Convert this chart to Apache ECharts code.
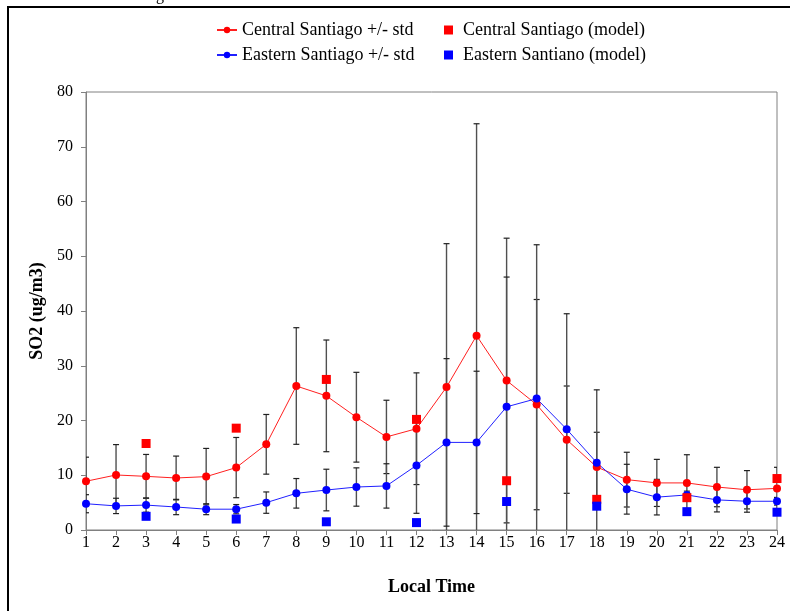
<!DOCTYPE html>
<html>
<head>
<meta charset="utf-8">
<script src="https://cdn.jsdelivr.net/npm/echarts@6/dist/echarts.min.js"></script>
<style>
  html, body { margin: 0; padding: 0; background: #ffffff; }
  #chart { width: 790px; height: 611px; }
</style>
</head>
<body>
<div id="chart"></div>
<script>
// Hour of day (local time)
const hours = [1, 2, 3, 4, 5, 6, 7, 8, 9, 10, 11, 12, 13, 14, 15, 16, 17, 18, 19, 20, 21, 22, 23, 24];

// Observed hourly SO2 means and standard deviations (ug/m3)
const centralMean = [8.9, 10.05, 9.8, 9.5, 9.75, 11.4, 15.65, 26.3, 24.5, 20.6, 17.0, 18.5, 26.1, 35.5, 27.3, 22.9, 16.5, 11.5, 9.2, 8.6, 8.6, 7.85, 7.35, 7.6];
const centralStd = [4.4, 5.55, 4.0, 4.0, 5.15, 5.5, 5.45, 10.65, 10.2, 8.2, 6.7, 10.2, 26.2, 38.7, 26.0, 19.2, 9.8, 6.35, 5.0, 4.3, 5.15, 3.6, 3.5, 3.85];
const easternMean = [4.8, 4.4, 4.55, 4.2, 3.8, 3.8, 5.0, 6.7, 7.3, 7.85, 8.05, 11.8, 16.0, 16.0, 22.5, 24.0, 18.4, 12.3, 7.45, 6.0, 6.4, 5.5, 5.25, 5.25];
const easternStd = [1.65, 1.4, 1.3, 1.4, 1.0, 0.85, 1.95, 2.7, 3.8, 3.5, 4.05, 8.75, 15.3, 13.0, 23.7, 28.1, 21.1, 13.3, 4.55, 3.25, 0.7, 2.2, 2.0, 0.7];

// Model output, every third hour
const modelHours = [3, 6, 9, 12, 15, 18, 21, 24];
const centralModel = [15.8, 18.6, 27.5, 20.2, 9.0, 5.6, 5.9, 9.4];
const easternModel = [2.5, 2.0, 1.5, 1.35, 5.2, 4.35, 3.35, 3.25];

// Axis ticks
const yTicks = [0, 10, 20, 30, 40, 50, 60, 70, 80];

const FONT = 'Liberation Serif';
const AXIS_GRAY = '#808080';
const BAR_COLOR = '#505050';

const pairs = (xs, ys) => xs.map((x, i) => [x, ys[i]]);
const triples = (xs, ms, ss) => xs.map((x, i) => [x, ms[i], ss[i]]);

// Vertical +/- std bar with small caps
function errorBar(params, api) {
  const x = api.value(0), m = api.value(1), s = api.value(2);
  const hi = api.coord([x, m + s]);
  const lo = api.coord([x, m - s]);
  const cx = hi[0];
  const w = 3;
  const st = { stroke: BAR_COLOR, lineWidth: 1.4 };
  const cap = { stroke: '#202020', lineWidth: 1.2 };
  return {
    type: 'group',
    children: [
      { type: 'line', shape: { x1: cx, y1: hi[1], x2: cx, y2: lo[1] }, style: st },
      { type: 'line', shape: { x1: cx - w, y1: hi[1], x2: cx + w, y2: hi[1] }, style: cap },
      { type: 'line', shape: { x1: cx - w, y1: lo[1], x2: cx + w, y2: lo[1] }, style: cap }
    ]
  };
}

const chart = echarts.init(document.getElementById('chart'), null, { renderer: 'canvas' });

const legendText = { fontFamily: FONT, fontSize: 18, color: '#000' };
function legendAt(name, left, top, square) {
  return {
    data: [name],
    left: left,
    top: top,
    orient: 'horizontal',
    padding: 0,
    itemWidth: square ? 9 : 20,
    itemHeight: square ? 9 : 8,
    itemGap: 0,
    selectedMode: false,
    textStyle: Object.assign({}, legendText, square ? { padding: [0, 0, 0, 5] } : {})
  };
}

chart.setOption({
  animation: false,
  backgroundColor: '#ffffff',
  textStyle: { fontFamily: FONT },
  graphic: [
    { type: 'rect', shape: { x: 8, y: 7, width: 820, height: 640 }, style: { fill: 'none', stroke: '#000', lineWidth: 2 }, silent: true },
    { type: 'text', x: 156, y: -12, style: { text: 'g', font: '16px "Liberation Serif"', fill: '#000' }, silent: true }
  ],
  legend: [
    legendAt('Central Santiago +/- std', 216, 21, false),
    legendAt('Central Santiago (model)', 444, 21, true),
    legendAt('Eastern Santiago +/- std', 216, 46, false),
    legendAt('Eastern Santiano (model)', 444, 46, true)
  ],
  grid: {
    left: 86, top: 92, right: 13, bottom: 81,
    show: true, borderColor: AXIS_GRAY, borderWidth: 1, backgroundColor: 'transparent'
  },
  xAxis: {
    type: 'value', min: 1, max: 24, interval: 1,
    name: 'Local Time', nameLocation: 'middle', nameGap: 48,
    nameTextStyle: { fontFamily: FONT, fontSize: 18, fontWeight: 'bold', color: '#000' },
    axisLine: { show: true, onZero: false, lineStyle: { color: AXIS_GRAY, width: 1 } },
    axisTick: { show: true, inside: false, length: 5, lineStyle: { color: AXIS_GRAY } },
    axisLabel: { margin: 5, fontFamily: FONT, fontSize: 16, color: '#000' },
    splitLine: { show: false }
  },
  yAxis: {
    type: 'value', min: yTicks[0], max: yTicks[yTicks.length - 1], interval: 10,
    name: 'SO2 (ug/m3)', nameLocation: 'middle', nameGap: 39,
    nameTextStyle: { fontFamily: FONT, fontSize: 18, fontWeight: 'bold', color: '#000' },
    axisLine: { show: true, lineStyle: { color: AXIS_GRAY, width: 1 } },
    axisTick: { show: true, inside: false, length: 5, lineStyle: { color: AXIS_GRAY } },
    axisLabel: { margin: 13, fontFamily: FONT, fontSize: 16, color: '#000' },
    splitLine: { show: false }
  },
  series: [
    {
      name: 'central-std', type: 'custom', renderItem: errorBar, clip: true, z: 1,
      encode: { x: 0, y: 1 }, data: triples(hours, centralMean, centralStd)
    },
    {
      name: 'eastern-std', type: 'custom', renderItem: errorBar, clip: true, z: 1,
      encode: { x: 0, y: 1 }, data: triples(hours, easternMean, easternStd)
    },
    {
      name: 'Central Santiago +/- std', type: 'line', z: 3,
      data: pairs(hours, centralMean),
      symbol: 'circle', symbolSize: 8,
      lineStyle: { color: '#ff2020', width: 1 },
      itemStyle: { color: '#ff0000' }
    },
    {
      name: 'Eastern Santiago +/- std', type: 'line', z: 3,
      data: pairs(hours, easternMean),
      symbol: 'circle', symbolSize: 8,
      lineStyle: { color: '#2020ff', width: 1 },
      itemStyle: { color: '#0000ff' }
    },
    {
      name: 'Central Santiago (model)', type: 'scatter', z: 4,
      data: pairs(modelHours, centralModel),
      symbol: 'rect', symbolSize: 9,
      itemStyle: { color: '#ff0000', opacity: 1 }
    },
    {
      name: 'Eastern Santiano (model)', type: 'scatter', z: 4,
      data: pairs(modelHours, easternModel),
      symbol: 'rect', symbolSize: 9,
      itemStyle: { color: '#0000ff', opacity: 1 }
    }
  ]
});
</script>
</body>
</html>
